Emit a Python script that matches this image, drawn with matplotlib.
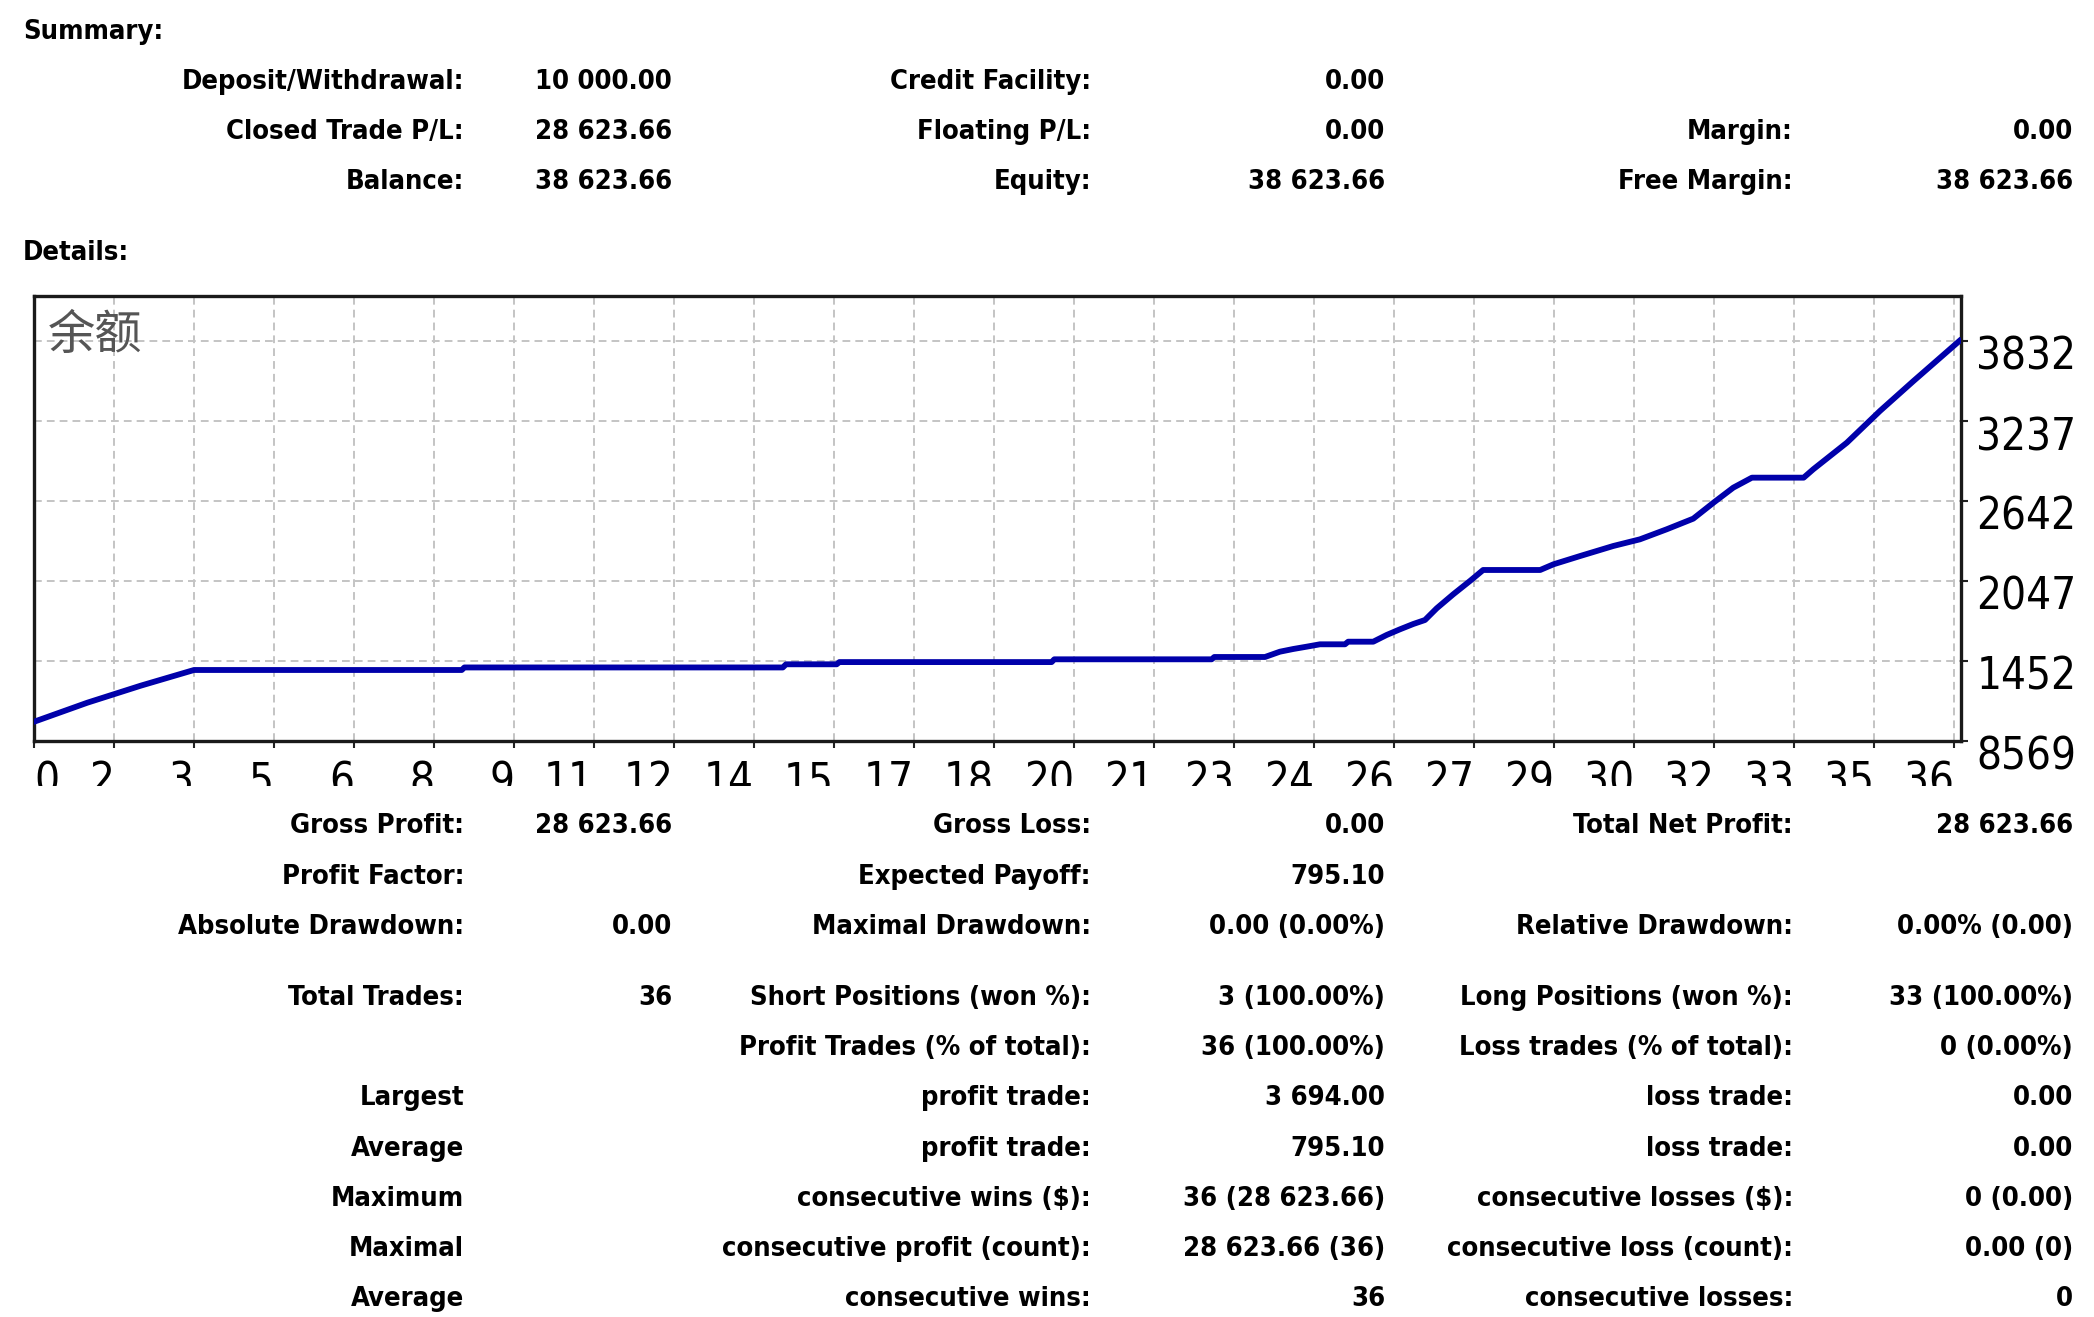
import matplotlib
matplotlib.use("Agg")
import matplotlib.pyplot as plt
from matplotlib import font_manager
from matplotlib.font_manager import FontProperties
from matplotlib.patches import Rectangle
from matplotlib.transforms import ScaledTranslation

# Datos de la curva de balance (posicion en eje x, balance)
trade_x = [0, 1, 2, 3, 8.02, 8.07, 14.04, 14.1, 15.05, 15.1, 19.08, 19.13,
           22.08, 22.13, 23.08, 23.36, 23.61, 23.86, 24.11, 24.58, 24.64,
           25.11, 25.36, 25.61, 25.86, 26.08, 26.3, 26.61, 26.93, 27.17,
           28.24, 28.49, 28.99, 29.61, 30.11, 30.61, 31.11, 31.49, 31.86,
           32.21, 33.18, 33.36, 33.99, 34.61, 35.24, 36.1]
balance = [10000, 11418, 12683, 13851, 13851, 14040, 14040, 14275, 14275,
           14440, 14440, 14646, 14646, 14818, 14818, 15212, 15413, 15584,
           15762, 15762, 15956, 15956, 16454, 16876, 17272, 17570, 18440,
           19482, 20494, 21290, 21290, 21714, 22331, 23075, 23571, 24315,
           25108, 26298, 27414, 28158, 28158, 28781, 30760, 33118, 35350,
           38330]

x_ticks = [1.5 * k for k in range(25)]
x_labels = ["0", "2", "3", "5", "6", "8", "9", "11", "12", "14", "15", "17",
            "18", "20", "21", "23", "24", "26", "27", "29", "30", "32", "33",
            "35", "36"]
y_ticks = [8569, 14520, 20471, 26422, 32373, 38324]
y_labels = ["8569", "1452", "2047", "2642", "3237", "3832"]

summary_rows = [
    ["Deposit/Withdrawal:", "10 000.00", "Credit Facility:", "0.00", "", ""],
    ["Closed Trade P/L:", "28 623.66", "Floating P/L:", "0.00", "Margin:", "0.00"],
    ["Balance:", "38 623.66", "Equity:", "38 623.66", "Free Margin:", "38 623.66"],
]
details_rows = [
    ["Gross Profit:", "28 623.66", "Gross Loss:", "0.00", "Total Net Profit:", "28 623.66"],
    ["Profit Factor:", "", "Expected Payoff:", "795.10", "", ""],
    ["Absolute Drawdown:", "0.00", "Maximal Drawdown:", "0.00 (0.00%)", "Relative Drawdown:", "0.00% (0.00)"],
    ["Total Trades:", "36", "Short Positions (won %):", "3 (100.00%)", "Long Positions (won %):", "33 (100.00%)"],
    ["", "", "Profit Trades (% of total):", "36 (100.00%)", "Loss trades (% of total):", "0 (0.00%)"],
    ["Largest", "", "profit trade:", "3 694.00", "loss trade:", "0.00"],
    ["Average", "", "profit trade:", "795.10", "loss trade:", "0.00"],
    ["Maximum", "", "consecutive wins ($):", "36 (28 623.66)", "consecutive losses ($):", "0 (0.00)"],
    ["Maximal", "", "consecutive profit (count):", "28 623.66 (36)", "consecutive loss (count):", "0.00 (0)"],
    ["Average", "", "consecutive wins:", "36", "consecutive losses:", "0"],
]

# fuentes
def buscar(nombre):
    for f in font_manager.fontManager.ttflist:
        if f.fname.endswith(nombre):
            return f.fname
    return None

f_bold = buscar("DejaVuSansCondensed-Bold.ttf")
f_reg = buscar("DejaVuSansCondensed.ttf")
if f_bold:
    fp_bold = FontProperties(fname=f_bold, size=19.6)
else:
    fp_bold = FontProperties(family="DejaVu Sans", weight="bold", size=18)
if f_reg:
    fp_tick = FontProperties(fname=f_reg, size=31.5)
else:
    fp_tick = FontProperties(family="DejaVu Sans", size=28)

W, H = 2094, 1317
fig = plt.figure(figsize=(W / 100, H / 100), dpi=100)

def fy(py):
    return 1 - py / H

# textos de las tablas
col_right = [464, 672, 1091, 1385, 1793, 2073]
fig.text(23 / W, fy(32), "Summary:", fontproperties=fp_bold, va="center", ha="left")
fig.text(23 / W, fy(253), "Details:", fontproperties=fp_bold, va="center", ha="left")

def tabla(filas, ys):
    for fila, y in zip(filas, ys):
        for txt, xr in zip(fila, col_right):
            if txt:
                fig.text(xr / W, fy(y), txt, fontproperties=fp_bold,
                         va="center", ha="right")

tabla(summary_rows, [82, 132, 182])
tabla(details_rows, [826, 877, 927, 998, 1048, 1098, 1149, 1199, 1249, 1299])

# grafico
left, right, top, bottom = 34, 1961, 296, 741
ax = fig.add_axes([left / W, 1 - bottom / H, (right - left) / W, (bottom - top) / H])
ax.plot(trade_x, balance, color="#0000aa", lw=4.2, solid_joinstyle="round", zorder=3)

ax.set_xlim(0, 36.13)
ax.set_ylim(8569, 8569 + (bottom - top) * 5951 / 80)
ax.set_xticks(x_ticks)
ax.set_xticklabels(x_labels, fontproperties=fp_tick)
ax.set_yticks(y_ticks)
ax.set_yticklabels(y_labels, fontproperties=fp_tick)
ax.yaxis.tick_right()
ax.tick_params(axis="both", direction="out", length=5, width=1.5, color="#202020")
ax.tick_params(axis="x", pad=9)
ax.tick_params(axis="y", pad=6)
ax.grid(True, color="#c4c4c4", lw=1.4, linestyle=(0, (4, 2.6)))
for s in ax.spines.values():
    s.set_linewidth(2.4)
    s.set_color("#1a1a1a")

for i, lab in enumerate(ax.get_xticklabels()):
    if i == 0:
        lab.set_ha("left")
    else:
        lab.set_ha("right")
off = ScaledTranslation(0, -12 / 100, fig.dpi_scale_trans)
for lab in ax.get_yticklabels():
    lab.set_transform(lab.get_transform() + off)

ax.text(0.007, 0.91, "余额", transform=ax.transAxes, fontsize=34,
        family=["Noto Sans CJK SC", "DejaVu Sans"], color="#555555",
        va="center", ha="left")

# recorte de las etiquetas del eje x
fig.add_artist(Rectangle((0, fy(808)), 1, 22 / H, transform=fig.transFigure,
                         facecolor="white", edgecolor="none", zorder=10))

fig.savefig("out.png", dpi=100, facecolor="white")
